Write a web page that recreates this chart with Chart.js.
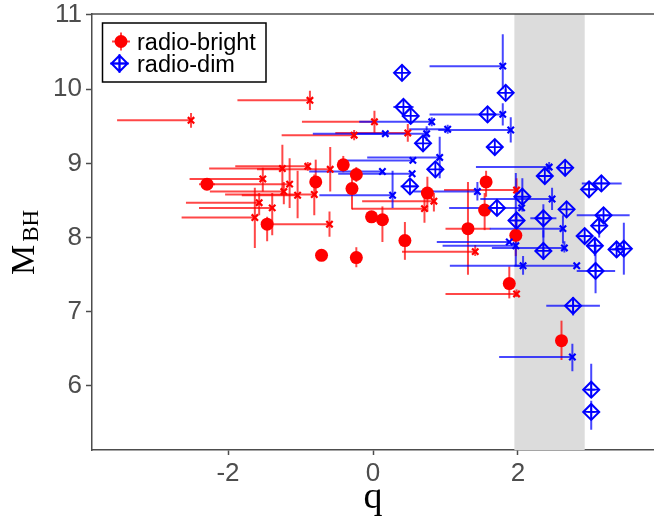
<!DOCTYPE html>
<html>
<head>
<meta charset="utf-8">
<script src="https://cdn.jsdelivr.net/npm/chart.js@4"></script>
<style>
	html, body { margin: 0; padding: 0; background: #fff; }
	#chart { display: block; }
</style>
</head>
<body>
<canvas id="chart" width="654" height="517"></canvas>
<script>
// every row: [q, M_BH, q low, q high, M low, M high]
const brightPoints = [
	[-2.29, 8.72, -2.40, -2.18, 8.67, 8.77],
	[-1.46, 8.18, -1.51, -1.41, 7.95, 8.28],
	[-0.79, 8.75, -0.79, -0.79, 8.55, 9.05],
	[-0.41, 8.98, -0.41, -0.41, 8.88, 9.10],
	[-0.23, 8.85, -0.23, -0.23, 8.75, 8.95],
	[-0.29, 8.66, -0.29, -0.29, 8.38, 8.80],
	[-0.02, 8.28, -0.02, -0.02, 8.22, 8.34],
	[-0.71, 7.76, -0.71, -0.71, 7.76, 7.76],
	[-0.23, 7.73, -0.23, -0.23, 7.60, 7.87],
	[1.56, 8.75, 1.56, 1.56, 8.55, 8.90],
	[0.75, 8.60, 0.75, 0.75, 8.35, 8.82],
	[0.13, 8.24, 0.13, 0.13, 7.94, 8.42],
	[0.44, 7.96, 0.44, 0.44, 7.70, 8.21],
	[1.31, 8.12, 1.00, 1.62, 7.50, 8.75],
	[1.54, 8.37, 1.54, 1.54, 8.10, 8.60],
	[1.88, 7.38, 1.88, 1.88, 7.18, 7.61],
	[1.97, 8.03, 1.97, 1.97, 7.75, 8.30],
	[2.60, 6.61, 2.60, 2.60, 6.35, 6.88]
]
const brightLimits = [
	[-0.87, 9.85, -1.87, -0.87, 9.72, 9.98],
	[-2.51, 9.58, -3.53, -2.51, 9.48, 9.68],
	[-0.26, 9.38, -1.26, -0.26, 9.31, 9.45],
	[-1.25, 8.93, -2.26, -1.25, 8.57, 9.25],
	[-0.90, 8.96, -1.90, -0.90, 8.90, 9.02],
	[-0.59, 8.92, -1.60, -0.59, 8.62, 9.22],
	[-1.52, 8.79, -2.53, -1.52, 8.62, 8.94],
	[-1.15, 8.72, -2.23, -1.15, 8.40, 9.07],
	[-1.23, 8.62, -2.25, -1.23, 8.45, 8.75],
	[-1.04, 8.57, -1.81, -1.04, 8.26, 8.90],
	[-0.81, 8.58, -2.04, -0.81, 8.30, 8.85],
	[-1.57, 8.47, -2.58, -1.57, 8.30, 8.60],
	[-1.39, 8.40, -2.40, -1.39, 8.03, 8.60],
	[-1.63, 8.27, -2.64, -1.63, 7.86, 8.67],
	[-0.60, 8.18, -1.42, -0.60, 8.01, 8.35],
	[0.02, 9.56, -0.98, 0.02, 9.41, 9.71],
	[0.48, 9.41, -0.52, 0.48, 9.29, 9.53],
	[0.71, 8.39, -0.29, 0.71, 8.20, 8.60],
	[0.84, 8.49, -0.15, 0.84, 8.35, 8.60],
	[1.41, 7.81, 0.40, 1.41, 7.75, 7.90],
	[1.98, 8.64, 0.98, 1.98, 8.55, 8.80],
	[1.98, 7.24, 1.00, 1.98, 7.20, 7.30]
]
const dimPoints = [
	[0.40, 10.22, 0.40, 0.40, 10.22, 10.22],
	[1.83, 9.95, 1.83, 1.83, 9.90, 10.00],
	[1.58, 9.66, 1.58, 1.58, 9.66, 9.66],
	[1.68, 9.22, 1.68, 1.68, 9.22, 9.22],
	[0.42, 9.76, 0.28, 0.56, 9.76, 9.76],
	[0.52, 9.64, 0.52, 0.52, 9.64, 9.64],
	[0.69, 9.27, 0.69, 0.69, 9.27, 9.27],
	[0.86, 8.92, 0.86, 0.86, 8.92, 8.92],
	[0.51, 8.69, 0.38, 0.60, 8.69, 8.69],
	[2.37, 8.83, 2.37, 2.37, 8.83, 8.83],
	[2.65, 8.94, 2.65, 2.65, 8.94, 8.94],
	[2.06, 8.55, 2.06, 2.06, 8.35, 8.80],
	[1.71, 8.40, 1.71, 1.71, 8.40, 8.40],
	[2.67, 8.38, 2.67, 2.67, 8.38, 8.38],
	[1.98, 8.23, 1.98, 1.98, 8.23, 8.23],
	[2.35, 8.26, 2.17, 2.53, 8.00, 8.45],
	[2.35, 7.82, 2.35, 2.35, 7.70, 8.10],
	[2.76, 7.08, 2.39, 3.13, 6.95, 7.20],
	[2.98, 8.65, 2.88, 3.05, 8.65, 8.65],
	[3.15, 8.73, 2.88, 3.43, 8.73, 8.73],
	[3.18, 8.30, 2.81, 3.54, 8.30, 8.30],
	[3.12, 8.16, 3.12, 3.12, 8.00, 8.30],
	[2.92, 8.02, 2.85, 3.00, 8.02, 8.02],
	[3.06, 7.89, 3.06, 3.06, 7.75, 8.00],
	[3.36, 7.84, 3.30, 3.45, 7.84, 7.84],
	[3.46, 7.85, 3.46, 3.46, 7.50, 8.20],
	[3.07, 7.55, 2.81, 3.34, 7.25, 7.93],
	[3.01, 5.95, 2.96, 3.06, 5.85, 6.30],
	[3.01, 5.65, 2.96, 3.06, 5.41, 5.80]
]
const dimLimits = [
	[1.79, 10.31, 0.78, 1.79, 10.00, 10.74],
	[1.79, 9.66, 0.78, 1.79, 9.51, 9.81],
	[1.90, 9.45, 0.90, 1.90, 9.28, 9.62],
	[0.81, 9.56, -0.19, 0.81, 9.50, 9.62],
	[0.74, 9.40, -0.83, 0.74, 9.30, 9.50],
	[0.17, 9.40, -0.30, 0.17, 9.40, 9.40],
	[1.03, 9.46, 0.50, 1.03, 9.40, 9.52],
	[0.92, 9.08, -0.08, 0.92, 8.80, 9.36],
	[0.55, 9.04, -0.45, 0.55, 9.04, 9.04],
	[0.13, 8.89, -0.88, 0.13, 8.89, 8.89],
	[0.54, 8.86, -0.48, 0.54, 8.86, 8.86],
	[0.27, 8.57, -0.74, 0.27, 8.40, 8.90],
	[1.44, 8.62, 0.56, 1.44, 8.50, 8.75],
	[2.43, 8.95, 1.42, 2.43, 8.88, 9.02],
	[2.47, 8.52, 1.48, 2.47, 8.37, 8.67],
	[2.05, 8.40, 1.05, 2.05, 8.40, 8.40],
	[2.62, 8.12, 1.61, 2.62, 7.92, 8.30],
	[1.88, 7.94, 0.88, 1.88, 7.94, 7.94],
	[1.97, 7.89, 0.96, 1.97, 7.62, 8.87],
	[2.07, 7.62, 1.95, 2.07, 7.50, 7.75],
	[2.81, 7.62, 1.06, 2.81, 7.62, 7.62],
	[2.75, 6.39, 1.74, 2.75, 6.20, 6.57],
	[2.64, 7.86, 1.64, 2.64, 7.80, 7.95]
]
const xTicks = [-2, 0, 2]
const yTicks = [6, 7, 8, 9, 10, 11]
const qRange = [-3.876, 3.876]
const mRange = [5.137, 11.013]
const shadedBand = [1.95, 2.92]
const seriesLabels = ['radio-bright', 'radio-dim']

const RED = '#FF0000'
const BLUE = '#0000FF'
const RED_BAR = 'rgba(255,0,0,0.72)'
const BLUE_BAR = 'rgba(0,0,255,0.72)'
const AXIS = '#4D4D4D'

const toXY = rows => rows.map(r => ({x: r[0], y: r[1]}))

function drawBars(ctx, x, y, rows, color) {
	ctx.strokeStyle = color
	ctx.lineWidth = 2
	rows.forEach(r => {
		let px = x.getPixelForValue(r[0])
		let py = y.getPixelForValue(r[1])
		ctx.beginPath()
		if (r[2] != r[3]) {
			ctx.moveTo(x.getPixelForValue(r[2]), py)
			ctx.lineTo(x.getPixelForValue(r[3]), py)
		}
		if (r[4] != r[5]) {
			ctx.moveTo(px, y.getPixelForValue(r[4]))
			ctx.lineTo(px, y.getPixelForValue(r[5]))
		}
		ctx.stroke()
	})
}

// grey band + error bars, under the markers
const underlay = {
	id: 'underlay',
	beforeDatasetsDraw(chart) {
		const {ctx, chartArea: a, scales: {x, y}} = chart
		ctx.save()
		let x0 = x.getPixelForValue(shadedBand[0])
		let x1 = x.getPixelForValue(shadedBand[1])
		ctx.fillStyle = '#DCDCDC'
		ctx.fillRect(x0, a.top, x1 - x0, a.bottom - a.top)
		ctx.beginPath()
		ctx.rect(a.left, a.top, a.right - a.left, a.bottom - a.top)
		ctx.clip()
		drawBars(ctx, x, y, brightLimits, RED_BAR)
		drawBars(ctx, x, y, brightPoints, RED_BAR)
		drawBars(ctx, x, y, dimLimits, BLUE_BAR)
		drawBars(ctx, x, y, dimPoints, BLUE_BAR)
		ctx.restore()
	}
}

function diamondMark(ctx, cx, cy, r) {
	ctx.strokeStyle = BLUE
	ctx.lineWidth = 2
	ctx.beginPath()
	ctx.moveTo(cx, cy - r); ctx.lineTo(cx + r, cy); ctx.lineTo(cx, cy + r); ctx.lineTo(cx - r, cy); ctx.closePath()
	ctx.moveTo(cx - r, cy); ctx.lineTo(cx + r, cy)
	ctx.moveTo(cx, cy - r); ctx.lineTo(cx, cy + r)
	ctx.stroke()
}

// frame top, axis titles, legend
const overlay = {
	id: 'overlay',
	afterDraw(chart) {
		const {ctx, chartArea: a} = chart
		ctx.save()
		ctx.strokeStyle = AXIS
		ctx.lineWidth = 1.5
		ctx.beginPath()
		ctx.moveTo(a.left, a.top)
		ctx.lineTo(a.right, a.top)
		ctx.stroke()

		// x title
		ctx.fillStyle = '#000'
		ctx.font = '38px "Liberation Serif"'
		ctx.textAlign = 'center'
		ctx.textBaseline = 'alphabetic'
		ctx.fillText('q', chart.scales.x.getPixelForValue(0), 508)

		// y title M_BH
		ctx.save()
		ctx.translate(34, 275)
		ctx.rotate(-Math.PI / 2)
		ctx.textAlign = 'left'
		ctx.font = '34px "Liberation Serif"'
		ctx.fillText('M', 0, 0)
		let w = ctx.measureText('M').width
		ctx.font = '23px "Liberation Serif"'
		ctx.fillText('BH', w + 3, 4)
		ctx.restore()

		// legend
		ctx.fillStyle = '#fff'
		ctx.fillRect(102.5, 23, 163.5, 59)
		ctx.strokeStyle = '#000'
		ctx.lineWidth = 1.5
		ctx.strokeRect(102.5, 23, 163.5, 59)

		ctx.strokeStyle = RED_BAR
		ctx.lineWidth = 2
		ctx.beginPath()
		ctx.moveTo(112, 41.5); ctx.lineTo(130, 41.5)
		ctx.moveTo(121, 32.5); ctx.lineTo(121, 50.5)
		ctx.stroke()
		ctx.fillStyle = RED
		ctx.beginPath()
		ctx.arc(121, 41.5, 6.5, 0, Math.PI * 2)
		ctx.fill()

		ctx.strokeStyle = BLUE_BAR
		ctx.beginPath()
		ctx.moveTo(110, 63.5); ctx.lineTo(129, 63.5)
		ctx.moveTo(119.5, 54); ctx.lineTo(119.5, 73)
		ctx.stroke()
		diamondMark(ctx, 119.5, 63.5, 8)

		ctx.fillStyle = '#000'
		ctx.font = '23.5px "Liberation Sans"'
		ctx.textAlign = 'left'
		ctx.fillText(seriesLabels[0], 137, 49.5)
		ctx.fillText(seriesLabels[1], 137, 71.5)
		ctx.restore()
	}
}

const tickFont = {family: '"Liberation Sans"', size: 26}

new Chart(document.getElementById('chart'), {
	type: 'scatter',
	data: {
		datasets: [
			{
				label: seriesLabels[1],
				data: toXY(dimPoints),
				pointStyle: 'rectRot',
				pointRadius: 8,
				borderColor: BLUE,
				backgroundColor: 'rgba(0,0,0,0)',
				borderWidth: 2,
				order: 1
			},
			{
				label: seriesLabels[1] + ' cross',
				data: toXY(dimPoints),
				pointStyle: 'cross',
				pointRadius: 8,
				borderColor: BLUE,
				borderWidth: 1.8,
				order: 2
			},
			{
				label: seriesLabels[1] + ' limit',
				data: toXY(dimLimits),
				pointStyle: 'crossRot',
				pointRadius: 4.5,
				borderColor: BLUE,
				borderWidth: 2.2,
				order: 3
			},
			{
				label: seriesLabels[0],
				data: toXY(brightPoints),
				pointStyle: 'circle',
				pointRadius: 6.5,
				backgroundColor: RED,
				borderWidth: 0,
				order: 4
			},
			{
				label: seriesLabels[0] + ' limit',
				data: toXY(brightLimits),
				pointStyle: 'crossRot',
				pointRadius: 4.5,
				borderColor: RED,
				borderWidth: 2.2,
				order: 5
			}
		]
	},
	options: {
		responsive: false,
		devicePixelRatio: 1,
		animation: false,
		events: [],
		layout: {autoPadding: false, padding: {top: 14, right: 0, left: 0, bottom: 0}},
		plugins: {
			legend: {display: false},
			tooltip: {enabled: false}
		},
		scales: {
			x: {
				type: 'linear',
				min: qRange[0],
				max: qRange[1],
				afterBuildTicks: s => { s.ticks = xTicks.map(v => ({value: v})) },
				afterFit: s => { s.height = 67; s.paddingLeft = 0; s.paddingRight = 0 },
				ticks: {font: tickFont, color: AXIS, padding: 3, maxRotation: 0},
				grid: {display: true, drawOnChartArea: false, drawTicks: true, tickLength: 5, tickWidth: 1.5, tickColor: AXIS},
				border: {display: true, color: AXIS, width: 1.5}
			},
			y: {
				type: 'linear',
				min: mRange[0],
				max: mRange[1],
				afterBuildTicks: s => { s.ticks = yTicks.map(v => ({value: v})) },
				afterFit: s => { s.width = 92; s.paddingTop = 0; s.paddingBottom = 0 },
				ticks: {font: tickFont, color: AXIS, padding: 4},
				grid: {display: true, drawOnChartArea: false, drawTicks: true, tickLength: 6, tickWidth: 1.5, tickColor: AXIS},
				border: {display: true, color: AXIS, width: 1.5}
			}
		}
	},
	plugins: [underlay, overlay]
})
</script>
</body>
</html>
